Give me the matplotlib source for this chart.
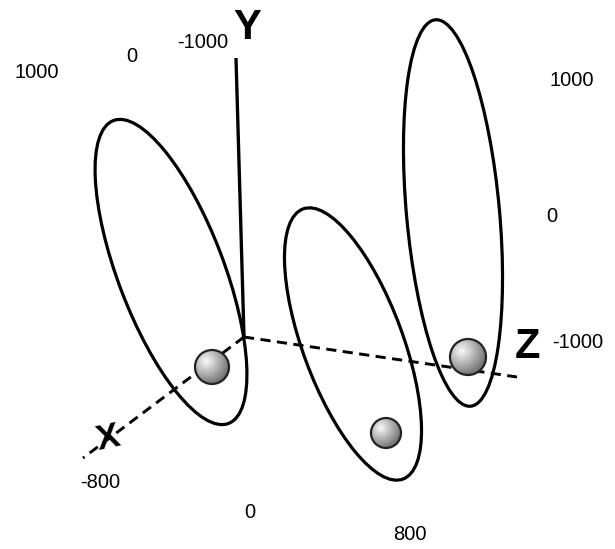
import numpy as np
import matplotlib
matplotlib.use("Agg")
import matplotlib.pyplot as plt
from matplotlib.patches import Ellipse, Circle

# === datos (coordenadas en pixeles de la figura) ===
elipse_cx = [171, 353, 453]
elipse_cy = [272, 344, 213]
elipse_ancho = [106, 100, 93]
elipse_alto = [324, 288, 388]
elipse_inclinacion = [20.8, 20.3, 5.2]

esfera_x = [212, 386, 468]
esfera_y = [367, 433, 357]
esfera_r = [17, 15, 18]

origen = (244, 337)
fin_ejes = {"Y": (236, 58), "Z": (517, 377), "X": (83, 458)}

etiquetas_ejes = ["Y", "Z", "X"]
pos_etiquetas_ejes = [(247, 28), (527, 347), (108, 438)]

ticks_texto = ["1000", "0", "-1000", "1000", "0", "-1000", "-800", "0", "800"]
ticks_x = [37, 132, 203, 572, 552, 578, 100, 250, 410]
ticks_y = [72, 57, 43, 80, 216, 342, 482, 512, 535]

W, H = 615, 549
fuente = ["Liberation Sans Narrow", "Liberation Sans", "DejaVu Sans"]

fig = plt.figure(figsize=(W / 100, H / 100), dpi=100)
ax = fig.add_axes([0, 0, 1, 1])
ax.set_xlim(0, W)
ax.set_ylim(H, 0)
ax.axis("off")

# Elipses (orbitas)
for cx, cy, w, h, t in zip(elipse_cx, elipse_cy, elipse_ancho, elipse_alto, elipse_inclinacion):
    ax.add_patch(Ellipse((cx, cy), w, h, angle=-t, fill=False,
                         edgecolor="black", linewidth=2.3, zorder=2))

# Ejes
ax.plot([origen[0], fin_ejes["Y"][0]], [origen[1], fin_ejes["Y"][1]],
        color="black", linewidth=2.4, solid_capstyle="butt", zorder=3)
for k in ["Z", "X"]:
    ax.plot([origen[0], fin_ejes[k][0]], [origen[1], fin_ejes[k][1]],
            color="black", linewidth=2.1, linestyle=(0, (3.5, 2.2)), zorder=3)

# Esferas con sombreado radial
n = 120
u = np.linspace(-1, 1, n)
gx, gy = np.meshgrid(u, u)
d = np.sqrt((gx + 0.35) ** 2 + (gy + 0.35) ** 2)
sombra = np.clip(0.98 - 0.38 * d, 0.3, 1.0)
for x, y, r in zip(esfera_x, esfera_y, esfera_r):
    im = ax.imshow(sombra, cmap="gray", vmin=0, vmax=1,
                   extent=[x - r, x + r, y + r, y - r], zorder=4,
                   interpolation="bilinear")
    borde = Circle((x, y), r, transform=ax.transData, facecolor="none")
    ax.add_patch(borde)
    im.set_clip_path(borde)
    ax.add_patch(Circle((x, y), r, fill=False, edgecolor="#222222",
                        linewidth=1.6, zorder=5))
ax.set_xlim(0, W)
ax.set_ylim(H, 0)

# Etiquetas de ejes
for t, (x, y) in zip(etiquetas_ejes, pos_etiquetas_ejes):
    rot = 12 if t == "X" else 0
    tam = 25 if t == "X" else 30
    ax.text(x, y, t, fontsize=tam, fontweight="bold", family=fuente,
            ha="center", va="center", rotation=rot, zorder=6)

# Valores
for t, x, y in zip(ticks_texto, ticks_x, ticks_y):
    ax.text(x, y, t, fontsize=14.5, family=fuente, ha="center", va="center", zorder=6)

fig.savefig("out.png", dpi=100, facecolor="white")
